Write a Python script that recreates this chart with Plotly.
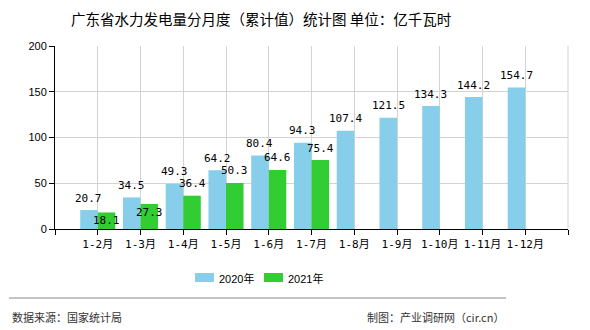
import plotly.graph_objects as go

categories = ["1-2月", "1-3月", "1-4月", "1-5月", "1-6月", "1-7月", "1-8月", "1-9月", "1-10月", "1-11月", "1-12月"]
series_names = ["2020年", "2021年"]
values_2020 = [20.7, 34.5, 49.3, 64.2, 80.4, 94.3, 107.4, 121.5, 134.3, 144.2, 154.7]
values_2021 = [18.1, 27.3, 36.4, 50.3, 64.6, 75.4]
y_ticks = [0, 50, 100, 150, 200]

colors = ["#87CEEB", "#32CD32"]

W, H = 590, 330
L, R, T, B = 55, 568, 46, 229
PW, PH = R - L, B - T


def px_x(px):
    return (px - L) / PW


def px_y(py):
    return (B - py) / PH


positions = list(range(1, len(categories) + 1))
bargap = 0.18
half = (1 - bargap) / 4

fig = go.Figure()
fig.add_trace(go.Bar(x=positions, y=values_2020, name=series_names[0],
                     marker=dict(color=colors[0], line=dict(width=0)), showlegend=False))
fig.add_trace(go.Bar(x=positions[:len(values_2021)], y=values_2021, name=series_names[1],
                     marker=dict(color=colors[1], line=dict(width=0)), showlegend=False))

label_font = dict(family="DejaVu Sans Mono, Noto Sans CJK SC", size=11, color="black")
annotations = []
for p, v in zip(positions, values_2020):
    annotations.append(dict(x=p - half, y=v, xref="x", yref="y", text=f"{v:.1f}",
                            showarrow=False, yshift=12, font=label_font))
shift_2021 = [-8, -8] + [12] * (len(values_2021) - 2)
for p, v, s in zip(positions, values_2021, shift_2021):
    annotations.append(dict(x=p + half, y=v, xref="x", yref="y", text=f"{v:.1f}",
                            showarrow=False, yshift=s, font=label_font))

# title
annotations.append(dict(x=px_x(261), y=px_y(18), xref="paper", yref="paper",
                        xanchor="center", yanchor="middle", showarrow=False,
                        text="广东省水力发电量分月度（累计值）统计图 单位：亿千瓦时",
                        font=dict(family="Noto Sans CJK SC", size=14.5, color="black")))
# footer
foot_font = dict(family="Noto Sans CJK SC", size=11, color="#333333")
annotations.append(dict(x=px_x(10), y=px_y(317), xref="paper", yref="paper",
                        xanchor="left", yanchor="middle", showarrow=False,
                        text="数据来源：国家统计局", font=foot_font))
annotations.append(dict(x=px_x(506), y=px_y(317), xref="paper", yref="paper",
                        xanchor="right", yanchor="middle", showarrow=False,
                        text="制图：产业调研网（cir.cn）", font=foot_font))

# legend (manual)
shapes = []
leg_items = [(195, series_names[0], colors[0]), (264, series_names[1], colors[1])]
for x0, name, c in leg_items:
    shapes.append(dict(type="rect", xref="paper", yref="paper",
                       x0=px_x(x0), x1=px_x(x0 + 19), y0=px_y(282), y1=px_y(273),
                       fillcolor=c, line=dict(width=0)))
    annotations.append(dict(x=px_x(x0 + 22), y=px_y(278), xref="paper", yref="paper",
                            xanchor="left", yanchor="middle", showarrow=False, text=name,
                            font=dict(family="Liberation Sans, Noto Sans CJK SC", size=11, color="black")))

# separator line
shapes.append(dict(type="line", xref="paper", yref="paper", x0=px_x(9), x1=px_x(506),
                   y0=px_y(298), y1=px_y(298), line=dict(color="#888888", width=1)))
# right border of plot
shapes.append(dict(type="line", xref="paper", yref="paper", x0=1, x1=1, y0=0, y1=1,
                   line=dict(color="#d3d3d3", width=1)))

tickvals = [0] + positions + [len(categories) + 1]
ticktext = [""] + categories + [""]

fig.update_layout(
    width=W, height=H,
    margin=dict(l=L, r=W - R, t=T, b=H - B),
    paper_bgcolor="white", plot_bgcolor="white",
    barmode="group", bargap=bargap, bargroupgap=0,
    annotations=annotations, shapes=shapes,
    showlegend=False,
    xaxis=dict(range=[0, len(categories) + 1], tickvals=tickvals, ticktext=ticktext,
               showgrid=True, gridcolor="#d3d3d3", gridwidth=1,
               showline=True, linecolor="black", linewidth=1,
               ticks="outside", ticklen=5, tickcolor="black",
               tickfont=dict(family="DejaVu Sans Mono, Noto Sans CJK SC", size=11, color="black"),
               zeroline=False, fixedrange=True),
    yaxis=dict(range=[0, 200], tickvals=y_ticks,
               showgrid=True, gridcolor="#d3d3d3", gridwidth=1,
               showline=True, linecolor="black", linewidth=1,
               ticks="outside", ticklen=5, tickcolor="black",
               tickfont=dict(family="Liberation Sans", size=11, color="black"),
               zeroline=False, fixedrange=True),
)

fig.write_html("out.html")
